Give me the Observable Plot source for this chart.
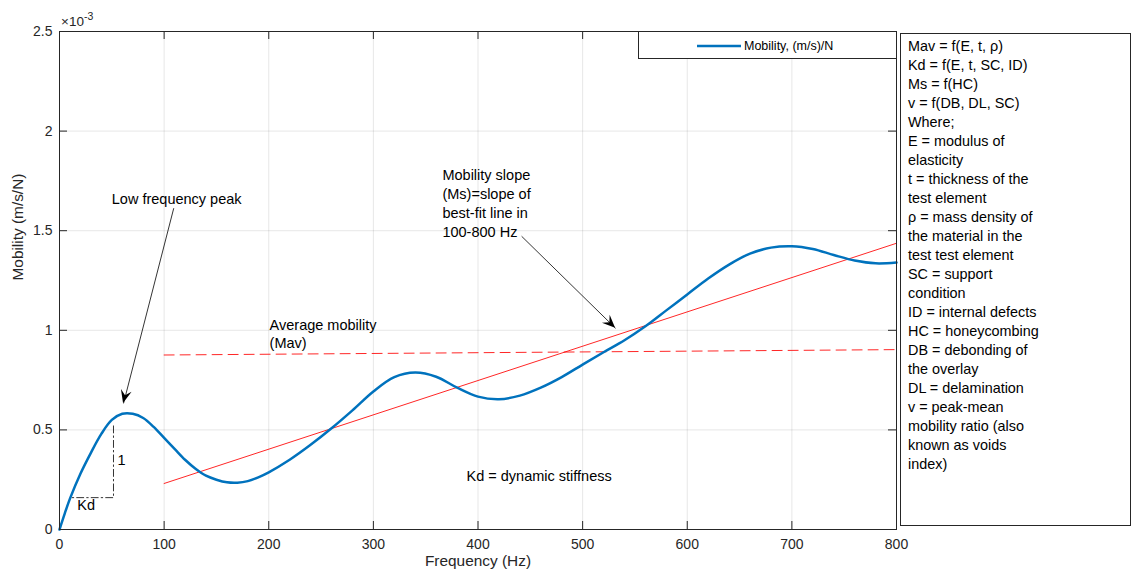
<!DOCTYPE html>
<html><head><meta charset="utf-8">
<script src="https://cdn.jsdelivr.net/npm/d3@7"></script>
<script src="https://cdn.jsdelivr.net/npm/@observablehq/plot@0.6"></script>
<style>
body{margin:0;background:#fff;font-family:"Liberation Sans",Arial,sans-serif;}
#chart{width:1135px;height:574px;}
</style></head><body><div id="chart"></div>
<script>
// ---- data (mobility in units of 1e-3 (m/s)/N) ----
const frequency = [0,5,10,20,30,40,50,60,70,80,90,100,110,120,130,140,150,160,170,180,190,200,220,240,260,280,300,320,340,360,380,400,420,440,460,480,500,520,540,560,580,600,620,640,660,680,700,720,740,760,780,800];
const mobility  = [0,0.08,0.155,0.28,0.385,0.48,0.55,0.581,0.581,0.56,0.515,0.46,0.405,0.35,0.305,0.27,0.25,0.237,0.235,0.243,0.262,0.287,0.35,0.425,0.508,0.598,0.693,0.765,0.788,0.767,0.712,0.667,0.654,0.672,0.712,0.765,0.828,0.89,0.95,1.02,1.10,1.18,1.26,1.33,1.385,1.415,1.422,1.408,1.378,1.35,1.336,1.34];
const fitFrequency = [100, 800];
const fitMobility  = [0.231, 1.437];
const avgFrequency = [100, 800];
const avgMobility  = [0.876, 0.903];
const kdFrequency = [51.6, 51.6, 10.5];
const kdMobility  = [0.52, 0.16, 0.16];
const xTicks = [0,100,200,300,400,500,600,700,800];
const yTicks = [0,0.5,1,1.5,2,2.5];
const yTickLabels = ["0","0.5","1","1.5","2","2.5"];
const xLabel = "Frequency (Hz)";
const yLabel = "Mobility (m/s/N)";
const legendLabel = "Mobility, (m/s)/N";
const leftNoteText  = ["Average mobility","(Mav)","Mobility slope","(Ms)=slope of","best-fit line in","100-800 Hz","Kd = dynamic stiffness","1","Kd"];
const leftNoteFreq  = [200.8,200.8,366,366,366,366,389,55.5,17];
const leftNoteMob   = [1.025,0.935,1.778,1.683,1.587,1.492,0.266,0.347,0.12];
const centerNoteText = ["Low frequency peak"];
const centerNoteFreq = [112];
const centerNoteMob  = [1.657];
const arrowFromFreq = [109.2, 441.7];
const arrowFromMob  = [1.613, 1.472];
const arrowToFreq   = [61.2, 531.5];
const arrowToMob    = [0.633, 1.01];
const boxLines = ["Mav = f(E, t, ρ)","Kd = f(E, t, SC, ID)","Ms = f(HC)","v = f(DB, DL, SC)","Where;","E = modulus of","elasticity","t = thickness of the","test element","ρ = mass density of","the material in the","test test element","SC = support","condition","ID = internal defects","HC = honeycombing","DB = debonding of","the overlay","DL = delamination","v = peak-mean","mobility ratio (also","known as voids","index)"];

// ---- tables ----
const curve = frequency.map((f,i)=>({f, m: mobility[i]}));
const fit = fitFrequency.map((f,i)=>({f, m: fitMobility[i]}));
const avg = avgFrequency.map((f,i)=>({f, m: avgMobility[i]}));
const kd = kdFrequency.map((f,i)=>({f, m: kdMobility[i]}));
const leftNotes = leftNoteText.map((t,i)=>({t, f:leftNoteFreq[i], m:leftNoteMob[i]}));
const centerNotes = centerNoteText.map((t,i)=>({t, f:centerNoteFreq[i], m:centerNoteMob[i]}));
const arrows = arrowFromFreq.map((f,i)=>({f1:f, m1:arrowFromMob[i], f2:arrowToFreq[i], m2:arrowToMob[i]}));

const W = 1135, H = 574, ML = 59, MR = 239, MT = 31, MB = 45;
const fw = W - ML - MR, fh = H - MT - MB;
const ink = "#262626";

function extras(index, scales, values, dims) {
  const sx = scales.x, sy = scales.y;
  const g = d3.create("svg:g").attr("text-anchor", "start");
  // filled arrow heads
  for (const a of arrows) {
    const x1 = sx(a.f1), y1 = sy(a.m1), x2 = sx(a.f2), y2 = sy(a.m2);
    const L = Math.hypot(x2-x1, y2-y1), ux = (x2-x1)/L, uy = (y2-y1)/L, nx = -uy, ny = ux;
    const hl = 13, hw = 5.5, notch = 8;
    const p = [[x2,y2],[x2-hl*ux+hw*nx, y2-hl*uy+hw*ny],[x2-notch*ux, y2-notch*uy],[x2-hl*ux-hw*nx, y2-hl*uy-hw*ny]];
    g.append("path").attr("d","M"+p.map(q=>q.join(",")).join("L")+"Z").attr("fill","black");
  }
  // x10^-3 multiplier
  const t = g.append("text").attr("x", dims.marginLeft + 2).attr("y", dims.marginTop - 5)
    .attr("text-anchor","start").attr("fill", ink).attr("font-size", 13.5);
  t.append("tspan").text("×10");
  t.append("tspan").attr("dy", -6).attr("font-size", 10.5).text("-3");
  // legend
  const right = dims.width - dims.marginRight;
  g.append("rect").attr("x", 638.5).attr("y", dims.marginTop + 0.5).attr("width", right - 638.5 + 0.5).attr("height", 27)
    .attr("fill","white").attr("stroke", ink).attr("stroke-width", 1);
  g.append("line").attr("x1", 697).attr("x2", 741).attr("y1", 46).attr("y2", 46)
    .attr("stroke", "#0072BD").attr("stroke-width", 2.5);
  g.append("text").attr("x", 744).attr("y", 46).attr("dy","0.35em").attr("text-anchor","start")
    .attr("font-size", 12.5).attr("fill","black").text(legendLabel);
  // note box
  g.append("rect").attr("x", 900.5).attr("y", 33.5).attr("width", 230).attr("height", 492)
    .attr("fill","white").attr("stroke", ink).attr("stroke-width", 1);
  boxLines.forEach((s,i)=>{
    g.append("text").attr("x", 908).attr("y", 46 + i*19).attr("dy","0.35em").attr("text-anchor","start")
      .attr("font-size", 14.4).attr("fill","black").text(s);
  });
  return g.node();
}

const chart = Plot.plot({
  width: W, height: H,
  marginLeft: ML, marginRight: MR, marginTop: MT, marginBottom: MB,
  x: {domain: [0, 800]},
  y: {domain: [0, 2.5]},
  style: {fontFamily: "'Liberation Sans', Arial, sans-serif", color: ink, background: "white", overflow: "visible"},
  marks: [
    Plot.gridX(xTicks, {stroke: ink, strokeOpacity: 0.11}),
    Plot.gridY(yTicks, {stroke: ink, strokeOpacity: 0.11}),
    Plot.line(avg, {x: "f", y: "m", stroke: "#FF0000", strokeWidth: 1, strokeDasharray: "10,6", strokeOpacity: 0.85}),
    Plot.line(fit, {x: "f", y: "m", stroke: "#FF0000", strokeWidth: 1, strokeOpacity: 0.85}),
    Plot.line(kd, {x: "f", y: "m", stroke: "black", strokeWidth: 0.8, strokeDasharray: "7,3,1.5,3"}),
    Plot.line(curve, {x: "f", y: "m", stroke: "#0072BD", strokeWidth: 2.5, curve: "catmull-rom"}),
    Plot.link(arrows, {x1: "f1", y1: "m1", x2: "f2", y2: "m2", stroke: "black", strokeWidth: 0.8}),
    Plot.text(leftNotes, {x: "f", y: "m", text: "t", textAnchor: "start", fontSize: 14.5, fill: "black"}),
    Plot.text(centerNotes, {x: "f", y: "m", text: "t", textAnchor: "middle", fontSize: 14.5, fill: "black"}),
    Plot.frame({stroke: ink, strokeWidth: 1}),
    Plot.tickX(xTicks, {x: d => d, stroke: ink, insetTop: fh - 8}),
    Plot.tickX(xTicks, {x: d => d, stroke: ink, insetBottom: fh - 8}),
    Plot.tickY(yTicks, {y: d => d, stroke: ink, insetRight: fw - 8}),
    Plot.tickY(yTicks, {y: d => d, stroke: ink, insetLeft: fw - 8}),
    Plot.axisX(xTicks, {tickSize: 0, tickPadding: 10, fontSize: 14, label: null, tickFormat: d => String(d)}),
    Plot.axisY(yTicks, {tickSize: 0, tickPadding: 7, fontSize: 14, label: null, tickFormat: d => yTickLabels[yTicks.indexOf(d)]}),
    Plot.text([xLabel], {frameAnchor: "bottom", dy: 36, fontSize: 15.4, fill: ink}),
    Plot.text([yLabel], {frameAnchor: "left", dx: -41, rotate: -90, fontSize: 15.4, fill: ink}),
    extras
  ]
});
document.getElementById("chart").appendChild(chart);
</script></body></html>
